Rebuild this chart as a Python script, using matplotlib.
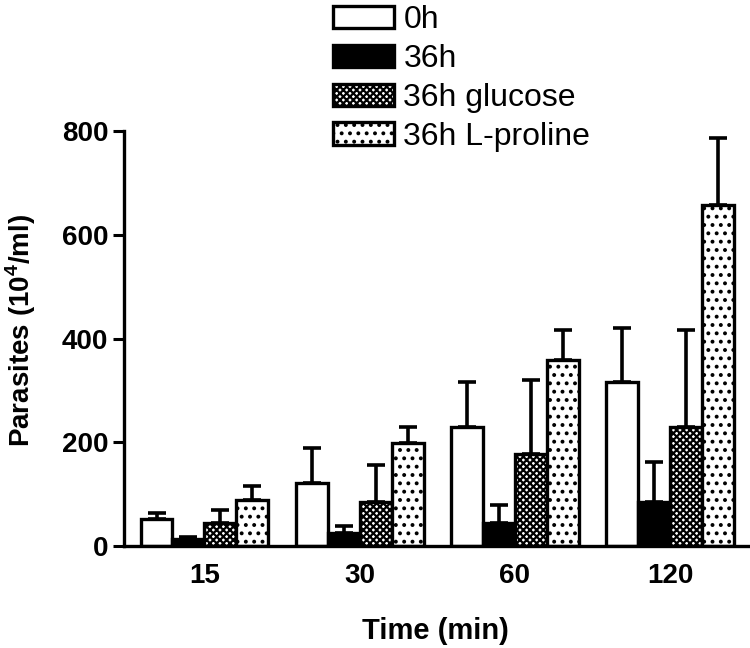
import numpy as np
import matplotlib
matplotlib.use("Agg")
import matplotlib.pyplot as plt
from matplotlib.patches import Patch

plt.rcParams["font.family"] = ["Liberation Sans", "DejaVu Sans"]
plt.rcParams["hatch.linewidth"] = 1.6
plt.rcParams["mathtext.fontset"] = "custom"
plt.rcParams["mathtext.bf"] = "Liberation Sans:bold"
plt.rcParams["mathtext.rm"] = "Liberation Sans"

times = ["15", "30", "60", "120"]
series = ["0h", "36h", "36h glucose", "36h L-proline"]
means = {
    "0h": [52, 121, 229, 316],
    "36h": [14, 25, 44, 85],
    "36h glucose": [44, 85, 177, 229],
    "36h L-proline": [90, 198, 358, 657],
}
errs = {
    "0h": [12, 68, 87, 104],
    "36h": [4, 14, 36, 77],
    "36h glucose": [25, 71, 143, 187],
    "36h L-proline": [27, 31, 58, 129],
}

fills = ["white", "black", "white", "white"]
hatches = [None, None, "xxxxx", ".."]

fig = plt.figure(figsize=(7.5, 6.48), dpi=100)
ax = fig.add_axes([0.165, 0.157, 0.832, 0.641])

x = np.arange(len(times))
w = 0.206
for i, name in enumerate(series):
    pos = x + (i - 1.5) * w
    ax.bar(pos, means[name], width=w, color=fills[i], edgecolor="black",
           linewidth=2.4, hatch=hatches[i], zorder=2)
    ax.errorbar(pos, means[name], yerr=[np.zeros(len(times)), errs[name]],
                fmt="none", ecolor="black", elinewidth=2.6, capsize=6.5,
                capthick=2.6, zorder=1)

ax.set_xlim(-0.52, 3.5)
ax.set_ylim(0, 800)
ax.set_yticks([0, 200, 400, 600, 800])
ax.set_xticks(x)
ax.set_xticklabels(times)
for s in ["top", "right"]:
    ax.spines[s].set_visible(False)
ax.spines["left"].set_linewidth(2.4)
ax.spines["bottom"].set_linewidth(2.4)
ax.tick_params(axis="y", length=8, width=2.2, labelsize=20, pad=3)
ax.tick_params(axis="x", length=0, labelsize=20, pad=12)
for lbl in ax.get_xticklabels() + ax.get_yticklabels():
    lbl.set_fontweight("bold")

ax.set_xlabel("Time (min)", fontsize=21, fontweight="bold", labelpad=20)
ax.set_ylabel(r"Parasites (10$^{\mathbf{4}}$/ml)", fontsize=20,
              fontweight="bold")
ax.yaxis.set_label_coords(-0.138, 0.52)

handles = [Patch(facecolor=fills[i], edgecolor="black", linewidth=2.4,
                 hatch=hatches[i], label=series[i]) for i in range(4)]
fig.legend(handles=handles, loc="upper left", bbox_to_anchor=(0.427, 1.012),
           frameon=False, fontsize=23, handlelength=1.9, handleheight=0.7,
           handletextpad=0.3, labelspacing=0.28, borderaxespad=0)

fig.savefig("out.png", dpi=100)
